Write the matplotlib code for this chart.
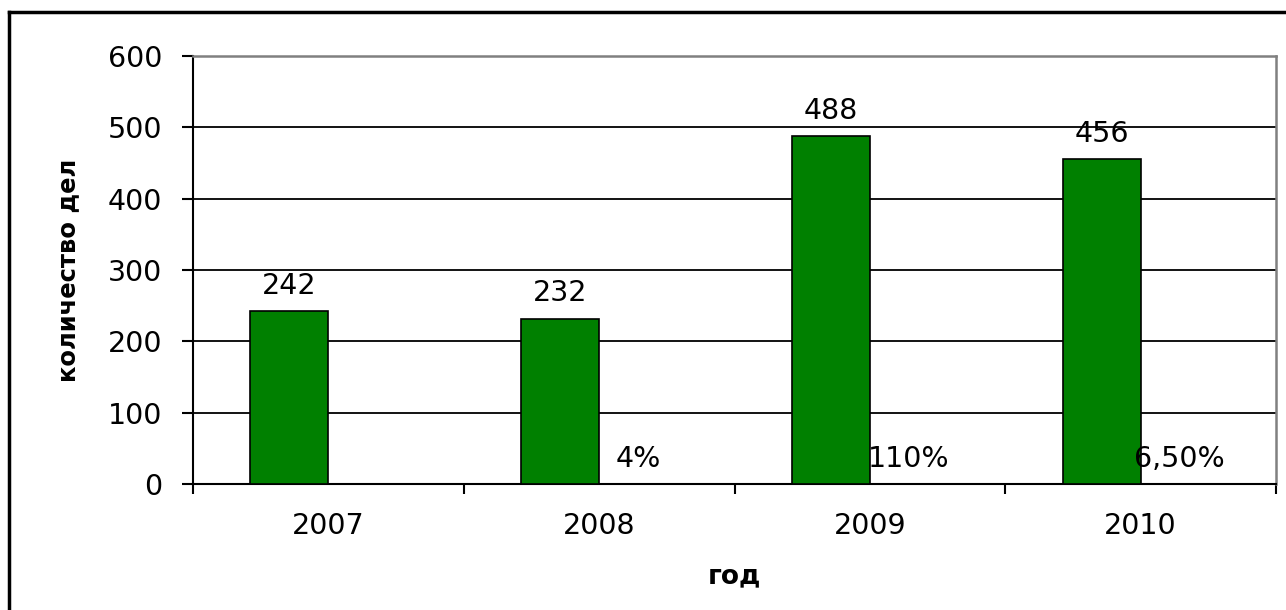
import matplotlib
matplotlib.use("Agg")
import matplotlib.pyplot as plt
from matplotlib.lines import Line2D
import numpy as np

years = ["2007", "2008", "2009", "2010"]
cases = [242, 232, 488, 456]
growth_values = [0, 0, 0, 0]
growth_labels = ["", "4%", "110%", "6,50%"]
y_ticks = [0, 100, 200, 300, 400, 500, 600]

plt.rcParams['font.family'] = ['DejaVu Sans']

W, H = 1286, 610
fig = plt.figure(figsize=(W / 100, H / 100), dpi=100)
ax = fig.add_axes([193 / W, 1 - 484 / H, (1276 - 193) / W, (484 - 56) / H])

x = np.arange(len(years))
bw = 0.288
b1 = ax.bar(x - bw / 2, cases, width=bw, color="#008000", edgecolor="black",
            linewidth=1.2, zorder=3)
b2 = ax.bar(x + bw / 2, growth_values, width=bw, color="none", edgecolor="none",
            linewidth=0, zorder=3)
ax.bar_label(b1, labels=[str(v) for v in cases], padding=8, fontsize=20.5)
ax.bar_label(b2, labels=growth_labels, padding=8, fontsize=20.5)

ax.set_xlim(-0.5, len(years) - 0.5)
ax.set_ylim(0, 600)
ax.set_yticks(y_ticks)
ax.set_yticklabels([str(v) for v in y_ticks])
ax.set_xticks(x)
ax.set_xticklabels(years)
ax.set_xticks(np.arange(-0.5, len(years)), minor=True)

ax.tick_params(axis='x', which='major', length=0, pad=20, labelsize=20.5)
ax.tick_params(axis='x', which='minor', length=7, width=1.5, direction='out')
ax.tick_params(axis='y', which='major', length=8, width=1.5, direction='out',
               pad=14, labelsize=20.5)

for v in y_ticks[1:-1]:
    ax.axhline(v, color="black", linewidth=1.3, zorder=1)

for s in ['top', 'right']:
    ax.spines[s].set_color('#808080')
    ax.spines[s].set_linewidth(1.8)
for s in ['left', 'bottom']:
    ax.spines[s].set_color('black')
    ax.spines[s].set_linewidth(1.5)

ax.set_ylabel("количество дел", fontsize=17.5, fontweight='bold', labelpad=20)
ax.set_xlabel("год", fontsize=19, fontweight='bold', labelpad=17)

# outer chart frame
fig.add_artist(Line2D([9 / W, 9 / W], [0, 1 - 12 / H], color='black', linewidth=2.5,
                      transform=fig.transFigure))
fig.add_artist(Line2D([9 / W, 1], [1 - 12 / H, 1 - 12 / H], color='black', linewidth=2.5,
                      transform=fig.transFigure))

fig.savefig("out.png", dpi=100)
